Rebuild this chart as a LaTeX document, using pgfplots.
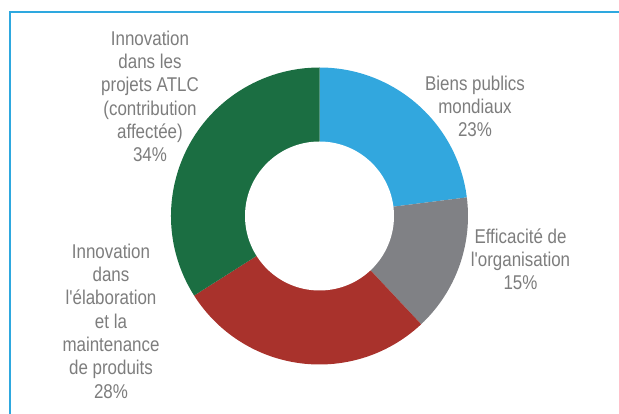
\documentclass[border=0pt]{standalone}
\usepackage{pgfplots}
\pgfplotsset{compat=1.18}
\usepackage{pgfplotstable}
\usepackage{fontspec}
\setmainfont[FakeStretch=0.85, Ligatures=TeXOff]{Liberation Sans}
\definecolor{cblue}{RGB}{50,167,222}
\definecolor{cgray}{RGB}{128,129,133}
\definecolor{cred}{RGB}{169,50,44}
\definecolor{cgreen}{RGB}{27,110,66}
\definecolor{cframe}{RGB}{46,168,223}
\definecolor{labelgray}{RGB}{125,125,125}
\pgfplotstableread{
share
23
15
28
34
}\donuttable
\begin{document}
\begin{tikzpicture}
\useasboundingbox (0bp,0bp) rectangle (619bp,414bp);
\pgfplotstablegetelem{0}{share}\of\donuttable \let\sA\pgfplotsretval
\pgfplotstablegetelem{1}{share}\of\donuttable \let\sB\pgfplotsretval
\pgfplotstablegetelem{2}{share}\of\donuttable \let\sC\pgfplotsretval
\pgfplotstablegetelem{3}{share}\of\donuttable \let\sD\pgfplotsretval
\pgfmathsetmacro\aA{90}
\pgfmathsetmacro\aB{\aA-3.6*\sA}
\pgfmathsetmacro\aC{\aB-3.6*\sB}
\pgfmathsetmacro\aD{\aC-3.6*\sC}
\pgfmathsetmacro\aE{\aD-3.6*\sD}
\draw[cframe, line width=2bp] (10bp,0bp) -- (10bp,402bp) -- (619bp,402bp);
\begin{axis}[hide axis, scale only axis, width=297bp, height=297bp,
  xmin=-1, xmax=1, ymin=-1, ymax=1, anchor=center, at={(319.5bp,198bp)}, clip=false]
\fill[cblue] (axis cs:0,0) -- ++(\aA:148.5bp) arc[start angle=\aA, end angle=\aB, radius=148.5bp] -- cycle;
\fill[cgray] (axis cs:0,0) -- ++(\aB:148.5bp) arc[start angle=\aB, end angle=\aC, radius=148.5bp] -- cycle;
\fill[cred] (axis cs:0,0) -- ++(\aC:148.5bp) arc[start angle=\aC, end angle=\aD, radius=148.5bp] -- cycle;
\fill[cgreen] (axis cs:0,0) -- ++(\aD:148.5bp) arc[start angle=\aD, end angle=\aE, radius=148.5bp] -- cycle;
\fill[white] (axis cs:0,0) circle[radius=74.5bp];
\end{axis}
\begin{scope}[every node/.style={font=\fontsize{20}{23.4}\selectfont, text=labelgray, align=center, anchor=base, inner sep=0pt}]
\node at (150bp,252.3bp) {Innovation\\dans les\\projets ATLC\\(contribution\\affectée)\\34\%};
\node at (111bp,16bp) {Innovation\\dans\\l'élaboration\\et la\\maintenance\\de produits\\28\%};
\node at (475bp,277.3bp) {Biens publics\\mondiaux\\23\%};
\node at (520.5bp,124bp) {Efficacité de\\l'organisation\\15\%};
\end{scope}
\end{tikzpicture}
\end{document}
